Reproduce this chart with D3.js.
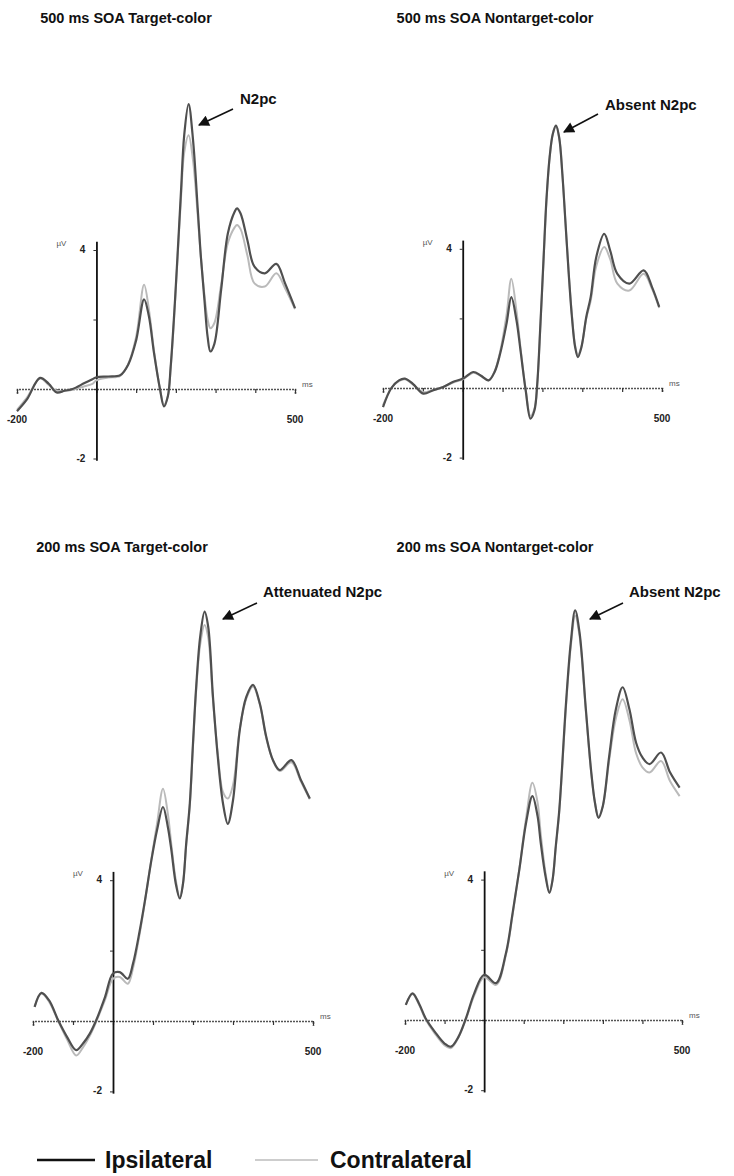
<!DOCTYPE html>
<html lang="en">
<head>
<meta charset="UTF-8">
<title>N2pc waveforms</title>
<style>
  body { margin: 0; background: #fff; }
  svg text { font-family: "Liberation Sans", Arial, sans-serif; }
</style>
</head>
<body>
<div class="canvas"></div>
<script src="https://d3js.org/d3.v7.min.js"></script>
<script>
// panel titles and arrow notes
const titles = ["500 ms SOA Target-color", "500 ms SOA Nontarget-color",
                "200 ms SOA Target-color", "200 ms SOA Nontarget-color"];
const notes = ["N2pc", "Absent N2pc", "Attenuated N2pc", "Absent N2pc"];
const xTicks = [-200, -100, 0, 100, 200, 300, 400, 500];
const xLabels = ["-200", "500"];
const yTicks = [-2, 0, 2, 4];
const yLabels = ["-2", "4"];
const seriesNames = ["Ipsilateral", "Contralateral"];

// 500 ms SOA target-color (ms, µV)
const t1 = [-200,-175,-142,-120,-100,-80,-60,-30,-10,0,30,60,80,100,120,132,145,160,170,180,187,196,204,213,221,232,243,255,263,272,280,287,297,314,331,348,354,363,380,398,424,453,475,500];
const ipsi1 = [-0.64,-0.3,0.32,0.15,-0.1,-0.05,0.0,0.17,0.28,0.34,0.36,0.4,0.7,1.4,2.58,2.1,1.03,0.0,-0.5,-0.2,0.65,2.2,3.8,5.7,7.3,8.2,7.2,5.2,3.8,2.56,1.5,1.08,1.3,2.85,4.48,5.1,5.2,5.05,4.29,3.52,3.33,3.6,3.04,2.33];
const contra1 = [-0.6,-0.25,0.3,0.12,-0.05,-0.05,-0.02,0.08,0.15,0.25,0.33,0.38,0.72,1.5,3.0,2.3,1.1,0.0,-0.45,-0.2,0.6,2.1,3.7,5.5,6.8,7.3,6.6,5.0,3.8,2.7,2.0,1.75,1.9,3.0,4.2,4.65,4.72,4.6,3.85,3.04,2.95,3.33,2.9,2.3];

// 500 ms SOA nontarget-color
const t2 = [-200,-179,-160,-145,-125,-99,-75,-49,-25,0,27,45,65,80,94,110,122,135,145,158,170,180,187,195,203,210,218,226,234,242,250,258,266,274,282,289,298,310,321,335,355,370,388,418,454,475,493];
const ipsi2 = [-0.55,0,0.22,0.27,0.12,-0.16,-0.07,0.03,0.17,0.27,0.46,0.36,0.22,0.46,0.99,1.85,2.61,1.94,1.08,-0.07,-0.88,-0.64,0.12,1.85,3.76,5.4,6.63,7.3,7.54,7.2,6.15,4.72,3.28,2.04,1.18,0.89,1.18,2.04,2.61,3.76,4.43,3.95,3.28,3.0,3.38,2.9,2.33];
const contra2 = [-0.5,0,0.2,0.25,0.1,-0.12,-0.06,0.03,0.15,0.25,0.44,0.35,0.22,0.48,1.05,2.1,3.14,2.2,1.15,-0.05,-0.8,-0.6,0.1,1.8,3.7,5.35,6.6,7.3,7.54,7.2,6.15,4.72,3.3,2.1,1.22,0.95,1.2,2.0,2.5,3.5,4.05,3.7,3.0,2.8,3.28,2.85,2.3];

// 200 ms SOA target-color
const t3 = [-196,-179,-160,-137,-115,-92,-75,-58,-42,-20,0,17,37,50,67,80,96,110,125,137,146,157,167,175,183,192,200,208,218,229,238,250,262,275,287,300,317,333,350,367,383,400,417,446,470,492];
const ipsi3 = [0.4,0.8,0.59,0.02,-0.45,-0.83,-0.64,-0.36,0.02,0.68,1.35,1.39,1.2,1.63,2.58,3.43,4.57,5.42,6.08,5.52,4.85,3.9,3.48,3.9,5.04,6.18,7.89,9.5,10.92,11.63,11.2,9.2,7.5,6.18,5.6,6.27,8.27,9.2,9.55,9.02,8.08,7.41,7.13,7.41,6.84,6.32];
const contra3 = [0.4,0.78,0.55,0.0,-0.52,-0.98,-0.75,-0.42,-0.02,0.6,1.2,1.25,1.06,1.5,2.5,3.4,4.6,5.6,6.6,5.9,5.0,4.0,3.5,3.9,5.0,6.1,7.8,9.4,10.7,11.25,10.9,9.1,7.6,6.5,6.32,6.7,8.3,9.15,9.5,9.0,8.05,7.4,7.1,7.35,6.8,6.3];

// 200 ms SOA nontarget-color
const t4 = [-198,-181,-165,-148,-125,-100,-84,-65,-46,-25,0,30,55,72,89,106,122,135,143,155,165,173,181,190,207,219,230,241,257,270,280,289,300,316,333,350,367,384,400,418,447,470,494];
const ipsi4 = [0.43,0.76,0.48,0.05,-0.33,-0.67,-0.76,-0.48,0.05,0.76,1.29,1.05,1.9,3.05,4.29,5.62,6.38,5.81,5.05,4.1,3.62,4.0,4.95,6.0,9.05,10.76,11.67,11.05,8.86,7.14,6.19,5.76,6.1,7.52,8.86,9.48,8.86,7.9,7.48,7.29,7.62,7.05,6.62];
const contra4 = [0.43,0.74,0.45,0.02,-0.38,-0.72,-0.8,-0.5,0.02,0.7,1.22,1.0,1.85,3.0,4.3,5.75,6.76,6.2,5.3,4.2,3.65,4.0,4.9,5.95,8.95,10.65,11.52,10.95,8.8,7.1,6.2,5.8,6.1,7.4,8.6,9.14,8.55,7.6,7.2,7.05,7.38,6.8,6.38];

const times = [t1, t2, t3, t4];
const ipsi = [ipsi1, ipsi2, ipsi3, ipsi4];
const contra = [contra1, contra2, contra3, contra4];

// layout of each panel in pixels
const layout = [
  { left: 17,  right: 295, zero: 389,  pxPerUv: 34.75, titleX: 126, titleY: 23,
    note: { x: 240, y: 104, tail: [233, 109], head: [199, 125] } },
  { left: 383, right: 662, zero: 388,  pxPerUv: 34.8,  titleX: 495, titleY: 23,
    note: { x: 605, y: 110, tail: [598, 114], head: [564, 132] } },
  { left: 33,  right: 313, zero: 1021, pxPerUv: 35.2,  titleX: 122, titleY: 552,
    note: { x: 263, y: 597, tail: [257, 603], head: [223, 619] } },
  { left: 405, right: 682, zero: 1020, pxPerUv: 35.1,  titleX: 495, titleY: 552,
    note: { x: 629, y: 597, tail: [623, 603], head: [590, 619] } }
];

const ipsiColor = "#4f4f4f";
const contraColor = "#bababa";

const svg = d3.select(".canvas").append("svg")
  .attr("width", 734)
  .attr("height", 1176);

svg.append("defs").append("marker")
  .attr("id", "head")
  .attr("viewBox", "0 0 10 10")
  .attr("refX", 9).attr("refY", 5)
  .attr("markerWidth", 14).attr("markerHeight", 11)
  .attr("markerUnits", "userSpaceOnUse")
  .attr("orient", "auto")
  .append("path")
  .attr("d", "M0,0 L10,5 L0,10 Z")
  .attr("fill", "#111");

layout.forEach((L, i) => {
  const g = svg.append("g");

  const x = d3.scaleLinear().domain([-200, 500]).range([L.left, L.right]);
  const y = d3.scaleLinear().domain([-2.05, 4.25])
    .range([L.zero + 2.05 * L.pxPerUv, L.zero - 4.25 * L.pxPerUv]);

  g.append("text")
    .attr("x", L.titleX).attr("y", L.titleY)
    .attr("text-anchor", "middle")
    .attr("font-size", 14.5).attr("font-weight", "bold")
    .attr("fill", "#111")
    .text(titles[i]);

  // x axis on the zero line
  const xAxis = g.append("g")
    .attr("transform", `translate(0,${y(0)})`)
    .call(d3.axisBottom(x).tickValues(xTicks).tickSize(4).tickSizeOuter(5).tickFormat(""));
  xAxis.select(".domain").attr("stroke", "#555").attr("stroke-width", 1.6).attr("stroke-dasharray", "2,1");
  xAxis.selectAll(".tick line").attr("stroke", "#333").attr("stroke-width", 1.2);

  // y axis at 0 ms
  const yAxis = g.append("g")
    .attr("transform", `translate(${x(0)},0)`)
    .call(d3.axisLeft(y).tickValues(yTicks).tickSize(3).tickSizeOuter(0).tickFormat(""));
  yAxis.select(".domain").attr("stroke", "#111").attr("stroke-width", 1.8);
  yAxis.selectAll(".tick line").attr("stroke", "#333");

  g.selectAll(".xlab").data(xLabels).join("text")
    .attr("x", d => x(+d)).attr("y", y(0) + 34)
    .attr("text-anchor", "middle")
    .attr("font-size", 10).attr("font-weight", "bold").attr("fill", "#222")
    .text(d => d);

  g.selectAll(".ylab").data(yLabels).join("text")
    .attr("x", x(0) - 11).attr("y", d => y(+d) + 3)
    .attr("text-anchor", "end")
    .attr("font-size", 10).attr("font-weight", "bold").attr("fill", "#222")
    .text(d => d);

  g.append("text")
    .attr("x", x(0) - 40).attr("y", y(4.25) + 5)
    .attr("font-size", 8).attr("fill", "#555")
    .text("µV");

  g.append("text")
    .attr("x", x(500) + 7).attr("y", y(0) - 2)
    .attr("font-size", 8).attr("fill", "#555")
    .text("ms");

  const line = d3.line()
    .x(d => x(d[0]))
    .y(d => y(d[1]))
    .curve(d3.curveCatmullRom.alpha(0.5));

  g.append("path")
    .datum(d3.zip(times[i], contra[i]))
    .attr("fill", "none")
    .attr("stroke", contraColor)
    .attr("stroke-width", 2)
    .attr("d", line);

  g.append("path")
    .datum(d3.zip(times[i], ipsi[i]))
    .attr("fill", "none")
    .attr("stroke", ipsiColor)
    .attr("stroke-width", 2.2)
    .attr("d", line);

  // arrow note
  g.append("line")
    .attr("x1", L.note.tail[0]).attr("y1", L.note.tail[1])
    .attr("x2", L.note.head[0]).attr("y2", L.note.head[1])
    .attr("stroke", "#111").attr("stroke-width", 1.6)
    .attr("marker-end", "url(#head)");

  g.append("text")
    .attr("x", L.note.x).attr("y", L.note.y)
    .attr("font-size", 15).attr("font-weight", "bold").attr("fill", "#111")
    .text(notes[i]);
});

// legend
const legend = svg.append("g").attr("transform", "translate(0,1158)");
const legendItems = [
  { x1: 37, x2: 95, color: "#111", width: 2.4, tx: 105 },
  { x1: 255, x2: 318, color: "#bdbdbd", width: 1.6, tx: 330 }
];
legendItems.forEach((it, i) => {
  legend.append("line")
    .attr("x1", it.x1).attr("x2", it.x2)
    .attr("y1", 2).attr("y2", 2)
    .attr("stroke", it.color).attr("stroke-width", it.width);
  legend.append("text")
    .attr("x", it.tx).attr("y", 10)
    .attr("font-size", 23).attr("font-weight", "bold").attr("fill", "#111")
    .text(seriesNames[i]);
});
</script>
</body>
</html>
